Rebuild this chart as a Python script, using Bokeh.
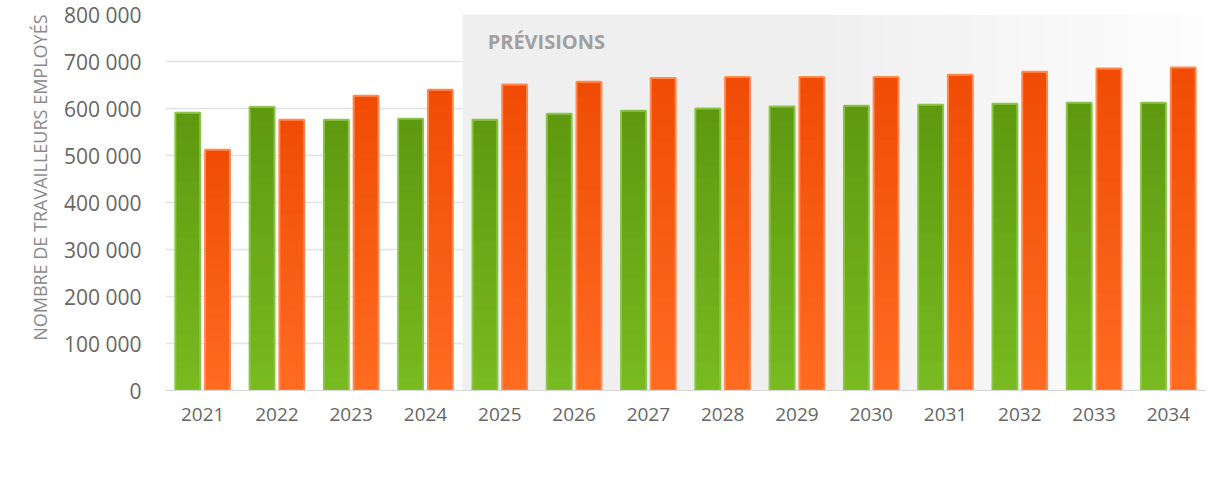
from bokeh.plotting import figure
from bokeh.models import (Range1d, FixedTicker, BoxAnnotation, Label, Legend, LegendItem, Title)
from bokeh.embed import file_html
from bokeh.resources import INLINE

years = ["2021", "2022", "2023", "2024", "2025", "2026", "2027", "2028", "2029",
         "2030", "2031", "2032", "2033", "2034"]
residentiel = [591000, 603000, 576000, 578000, 576000, 589000, 595000, 600000, 604000,
               606000, 608000, 610000, 612000, 612000]
non_residentiel = [512000, 576000, 627000, 640000, 651000, 657000, 665000, 667000, 667000,
                   667000, 672000, 678000, 685000, 687000]
y_ticks = [0, 100000, 200000, 300000, 400000, 500000, 600000, 700000, 800000]
forecast_start = "2025"

AX_FONT = "Open Sans"

p = figure(frame_width=1040, frame_height=376, output_backend="svg", toolbar_location=None,
           x_range=Range1d(0, len(years)), y_range=Range1d(0, 800000),
           min_border_left=165, min_border_right=1, min_border_top=14, min_border_bottom=83)
p.outline_line_color = None
p.background_fill_color = "white"

# forecast band with fading gradient
fi = years.index(forecast_start)
n_strips = 60
span = len(years) - fi
for k in range(n_strips):
    l = fi + span * k / n_strips
    r = fi + span * (k + 1) / n_strips + 0.01
    t = k / n_strips
    if t < 0.45:
        g = 0xef
    else:
        g = int(0xef + (0xfe - 0xef) * (t - 0.45) / 0.55)
    col = "#%02x%02x%02x" % (g, g, g)
    p.add_layout(BoxAnnotation(left=l, right=min(r, len(years)), fill_color=col, fill_alpha=1,
                               line_color=None, level="underlay"))

p.add_layout(Label(x=fi, y=800000, x_offset=25, y_offset=-27, text="PRÉVISIONS",
                   text_font=AX_FONT, text_font_style="bold", text_font_size="20px",
                   text_color="#a0a0a0", text_baseline="middle", level="underlay"))

xc = [i + 0.5 for i in range(len(years))]
off = 0.2
bw = 0.335

def grad_bars(xs, vals, top_rgb, bot_rgb, line_col):
    n = 20
    # draw tallest first (top colour), then successively shorter, lighter layers over it
    for k in range(n, 0, -1):
        f1 = k / n
        t = (k - 0.5) / n
        c = tuple(int(bot_rgb[j] + (top_rgb[j] - bot_rgb[j]) * t) for j in range(3))
        col = "#%02x%02x%02x" % c
        p.vbar(x=xs, width=bw, bottom=0, top=[v * f1 for v in vals],
               fill_color=col, line_color=None)
    p.vbar(x=xs, width=bw, bottom=0, top=vals, fill_alpha=0, line_color=line_col, line_width=2)

grad_bars([x - off for x in xc], residentiel, (0x5e, 0x99, 0x10), (0x79, 0xbb, 0x21), "#8cc449")
grad_bars([x + off for x in xc], non_residentiel, (0xf0, 0x4c, 0x05), (0xff, 0x6c, 0x21), "#ff8a50")

# axes
p.xaxis.ticker = FixedTicker(ticks=xc)
p.xaxis.major_label_overrides = {x: y for x, y in zip(xc, years)}
p.xaxis.major_tick_line_color = None
p.xaxis.minor_tick_line_color = None
p.xaxis.axis_line_color = "#d6d6d6"
p.xaxis.axis_line_width = 1
p.xaxis.major_label_text_font = AX_FONT
p.xaxis.major_label_text_font_size = "19px"
p.xaxis.major_label_text_color = "#666666"
p.xaxis.major_label_standoff = 11

p.yaxis.ticker = FixedTicker(ticks=y_ticks)
p.yaxis.major_label_overrides = {v: f"{v:,}".replace(",", " ") for v in y_ticks}
p.yaxis.major_tick_line_color = None
p.yaxis.minor_tick_line_color = None
p.yaxis.axis_line_color = None
p.yaxis.major_label_text_font = AX_FONT
p.yaxis.major_label_text_font_size = "21px"
p.yaxis.major_label_text_color = "#666666"
p.yaxis.major_label_standoff = 18

p.xgrid.grid_line_color = None
p.ygrid.grid_line_color = "#e2e2e2"
p.ygrid.grid_line_width = 1.5

p.add_layout(Title(text="NOMBRE DE TRAVAILLEURS EMPLOYÉS", align="right", text_font=AX_FONT,
                   text_font_size="18px", text_font_style="normal", text_color="#8a8a8a",
                   standoff=20), "left")

# legend
r1 = p.scatter(x=[], y=[], marker="circle", size=12, fill_color="#79bb21", line_color=None)
r2 = p.scatter(x=[], y=[], marker="circle", size=12, fill_color="#ff6c21", line_color=None)
leg = Legend(items=[LegendItem(label="Résidentiel", renderers=[r1]),
                    LegendItem(label="Non résidentielle", renderers=[r2])],
             orientation="horizontal", location=(-32, 0),
             label_text_font="Roboto", label_text_font_size="18px", label_text_color="#444444",
             glyph_width=20, glyph_height=20, label_standoff=7, spacing=44,
             padding=0, margin=0, border_line_color=None, background_fill_alpha=0)
p.add_layout(leg, "below")

open("out.html", "w").write(file_html(p, INLINE))
